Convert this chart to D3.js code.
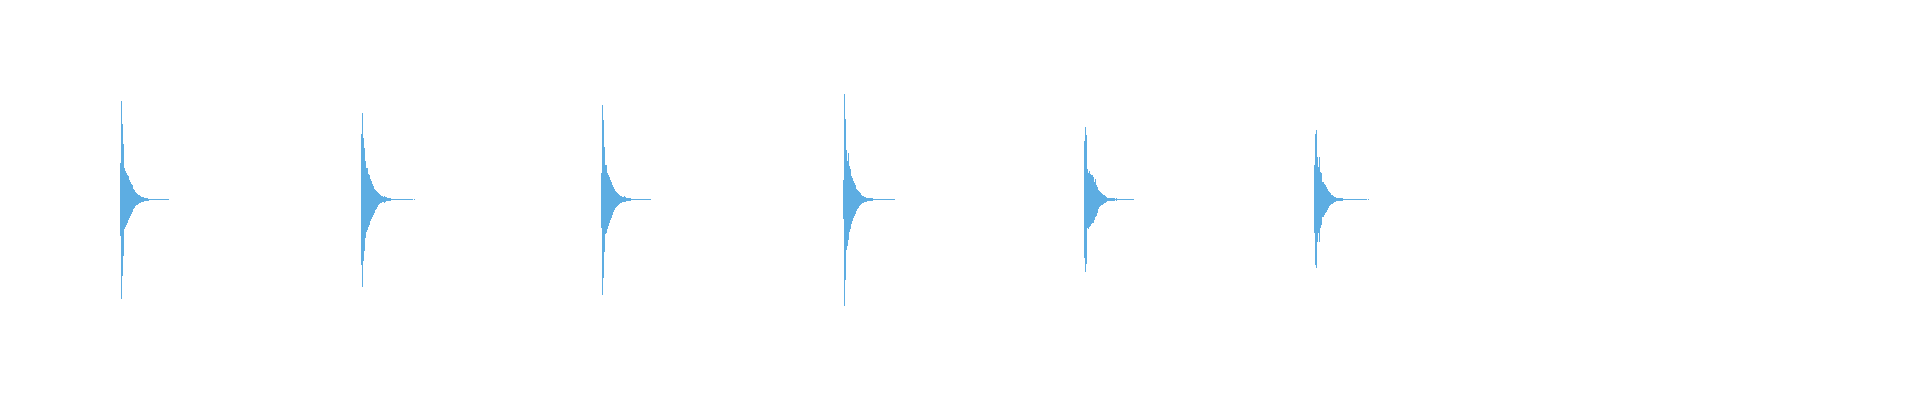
<!DOCTYPE html>
<html>
<head>
<meta charset="utf-8">
<script src="https://cdn.jsdelivr.net/npm/d3@7"></script>
<style>
  html, body { margin: 0; padding: 0; background: #fff; }
  svg { display: block; }
</style>
</head>
<body>
<svg id="chart" width="1920" height="400"></svg>
<script>
// beat onsets in seconds, one decaying hit each
const onsets = [0.5042, 1.5083, 2.5083, 3.5167, 4.5208, 5.4792];
const sampleStep = 1 / 240; // one envelope column

// positive peaks per column (starting one column before the onset)
const pulse1Hi = [0.333, 0.891, 0.682, 0.509, 0.282, 0.257, 0.245, 0.227, 0.212, 0.175, 0.161, 0.145, 0.130, 0.100, 0.085, 0.070, 0.061, 0.052, 0.045, 0.039, 0.034, 0.027, 0.025, 0.021, 0.018, 0.015, 0.012, 0.012, 0.009, 0.009, 0.009, 0.006, 0.006, 0.006, 0.006, 0.006, 0.006, 0.005, 0.005, 0.005, 0.005, 0.005, 0.005, 0.005, 0.005, 0.005, 0.005, 0.005, 0.005];
const pulse1Lo = [0.336, 0.900, 0.691, 0.518, 0.264, 0.248, 0.234, 0.218, 0.190, 0.165, 0.150, 0.130, 0.110, 0.090, 0.075, 0.062, 0.054, 0.046, 0.040, 0.034, 0.030, 0.025, 0.022, 0.019, 0.016, 0.014, 0.012, 0.011, 0.010, 0.009, 0.008, 0.006, 0.006, 0.006, 0.006, 0.006, 0.006, 0.005, 0.005, 0.005, 0.005, 0.005, 0.005, 0.005, 0.005, 0.005, 0.005, 0.005, 0.005];

const pulse2Hi = [0.594, 0.782, 0.561, 0.464, 0.348, 0.282, 0.288, 0.236, 0.221, 0.185, 0.166, 0.145, 0.125, 0.100, 0.085, 0.075, 0.064, 0.055, 0.048, 0.043, 0.036, 0.030, 0.027, 0.034, 0.025, 0.021, 0.015, 0.012, 0.012, 0.012, 0.009, 0.009, 0.009, 0.006, 0.006, 0.009, 0.006, 0.006, 0.005, 0.005, 0.005, 0.005, 0.005, 0.005, 0.005, 0.005, 0.005, 0.005, 0.005, 0.005, 0.005, 0.005, 0, 0.005];
const pulse2Lo = [0.597, 0.794, 0.561, 0.470, 0.348, 0.291, 0.279, 0.248, 0.234, 0.197, 0.173, 0.157, 0.143, 0.127, 0.097, 0.082, 0.066, 0.052, 0.043, 0.036, 0.030, 0.027, 0.024, 0.028, 0.022, 0.018, 0.015, 0.012, 0.012, 0.011, 0.009, 0.009, 0.008, 0.006, 0.006, 0.007, 0.006, 0.006, 0.005, 0.005, 0.005, 0.005, 0.005, 0.005, 0.005, 0.005, 0.005, 0.005, 0.005, 0.005, 0.005, 0.005, 0, 0.005];

const pulse3Hi = [0.245, 0.857, 0.721, 0.479, 0.312, 0.318, 0.245, 0.227, 0.206, 0.175, 0.161, 0.136, 0.115, 0.094, 0.079, 0.070, 0.057, 0.048, 0.043, 0.036, 0.030, 0.027, 0.025, 0.030, 0.021, 0.018, 0.015, 0.012, 0.012, 0.012, 0.009, 0.009, 0.009, 0.006, 0.006, 0.006, 0.006, 0.006, 0.006, 0.005, 0.005, 0.005, 0.005, 0.005, 0.005, 0.005, 0.005, 0.005, 0.005, 0.005];
const pulse3Lo = [0.257, 0.864, 0.718, 0.475, 0.318, 0.309, 0.264, 0.245, 0.215, 0.185, 0.164, 0.140, 0.118, 0.097, 0.080, 0.068, 0.056, 0.047, 0.041, 0.035, 0.030, 0.026, 0.024, 0.027, 0.021, 0.018, 0.015, 0.012, 0.012, 0.011, 0.009, 0.009, 0.008, 0.006, 0.006, 0.006, 0.006, 0.006, 0.006, 0.005, 0.005, 0.005, 0.005, 0.005, 0.005, 0.005, 0.005, 0.005, 0.005, 0.005];

const pulse4Hi = [0.175, 0.957, 0.736, 0.448, 0.352, 0.425, 0.303, 0.273, 0.212, 0.200, 0.170, 0.152, 0.130, 0.100, 0.085, 0.075, 0.064, 0.055, 0.045, 0.036, 0.030, 0.025, 0.021, 0.018, 0.018, 0.015, 0.015, 0.012, 0.012, 0.012, 0.009, 0.009, 0.009, 0.006, 0.006, 0.006, 0.006, 0.005, 0.005, 0.005, 0.005, 0.005, 0.005, 0.005, 0.005, 0.005, 0.005, 0.005, 0.005, 0.005, 0.005, 0.005];
const pulse4Lo = [0.173, 0.970, 0.734, 0.461, 0.425, 0.370, 0.294, 0.264, 0.221, 0.194, 0.172, 0.150, 0.128, 0.103, 0.088, 0.074, 0.062, 0.052, 0.044, 0.036, 0.030, 0.025, 0.021, 0.019, 0.017, 0.015, 0.014, 0.012, 0.012, 0.011, 0.009, 0.009, 0.008, 0.006, 0.006, 0.006, 0.006, 0.005, 0.005, 0.005, 0.005, 0.005, 0.005, 0.005, 0.005, 0.005, 0.005, 0.005, 0.005, 0.005, 0.005, 0.005];

const pulse5Hi = [0.530, 0.655, 0.585, 0.275, 0.245, 0.257, 0.236, 0.227, 0.221, 0.206, 0.155, 0.185, 0.136, 0.115, 0.085, 0.075, 0.064, 0.057, 0.048, 0.045, 0.039, 0.030, 0.021, 0.018, 0.015, 0.015, 0.012, 0.012, 0.012, 0.012, 0.012, 0.006, 0.012, 0.006, 0.009, 0.009, 0.005, 0.005, 0.005, 0.005, 0.005, 0.005, 0.005, 0.005, 0.005, 0.005, 0.005, 0.005, 0.005, 0.005];
const pulse5Lo = [0.530, 0.657, 0.582, 0.257, 0.264, 0.248, 0.243, 0.227, 0.218, 0.218, 0.188, 0.157, 0.148, 0.127, 0.082, 0.066, 0.060, 0.052, 0.047, 0.042, 0.036, 0.029, 0.022, 0.018, 0.016, 0.014, 0.012, 0.012, 0.011, 0.011, 0.010, 0.007, 0.010, 0.007, 0.008, 0.008, 0.005, 0.005, 0.005, 0.005, 0.005, 0.005, 0.005, 0.005, 0.005, 0.005, 0.005, 0.005, 0.005, 0.005];

const pulse6Hi = [0.312, 0.591, 0.630, 0.388, 0.297, 0.388, 0.252, 0.245, 0.161, 0.155, 0.145, 0.130, 0.115, 0.094, 0.075, 0.064, 0.055, 0.045, 0.039, 0.030, 0.025, 0.021, 0.018, 0.015, 0.015, 0.015, 0.012, 0.012, 0.012, 0.009, 0.009, 0.009, 0.006, 0.006, 0.006, 0.006, 0.005, 0.005, 0.005, 0.005, 0.005, 0.005, 0.005, 0.005, 0.005, 0.005, 0.005, 0.005, 0.005, 0.005, 0.005, 0.005, 0.005, 0, 0.005];
const pulse6Lo = [0.309, 0.597, 0.627, 0.385, 0.309, 0.385, 0.257, 0.234, 0.157, 0.157, 0.142, 0.127, 0.112, 0.092, 0.076, 0.063, 0.053, 0.045, 0.038, 0.031, 0.026, 0.021, 0.018, 0.016, 0.015, 0.014, 0.012, 0.012, 0.011, 0.009, 0.009, 0.008, 0.006, 0.006, 0.006, 0.006, 0.005, 0.005, 0.005, 0.005, 0.005, 0.005, 0.005, 0.005, 0.005, 0.005, 0.005, 0.005, 0.005, 0.005, 0.005, 0.005, 0.005, 0, 0.005];

const pulseHi = [pulse1Hi, pulse2Hi, pulse3Hi, pulse4Hi, pulse5Hi, pulse6Hi];
const pulseLo = [pulse1Lo, pulse2Lo, pulse3Lo, pulse4Lo, pulse5Lo, pulse6Lo];

const width = 1920;
const height = 400;
const waveColor = "#5dade2";

const svg = d3.select("#chart");

const xScale = d3.scaleLinear().domain([0, 8]).range([0, width]);
const yScale = d3.scaleLinear().domain([-1, 1]).range([309.5, 89.5]);

const columnWidth = xScale(sampleStep) - xScale(0);

const rows = onsets.flatMap((onset, p) =>
  pulseHi[p].map((hi, i) => ({
    t: onset + (i - 1) * sampleStep,
    hi,
    lo: pulseLo[p][i],
  }))
);

svg
  .append("g")
  .attr("class", "waveform")
  .attr("fill", waveColor)
  .attr("shape-rendering", "crispEdges")
  .selectAll("rect")
  .data(rows.filter((d) => d.hi > 0 || d.lo > 0))
  .join("rect")
  .attr("x", (d) => xScale(d.t))
  .attr("width", columnWidth)
  .attr("y", (d) => yScale(d.hi))
  .attr("height", (d) => yScale(-d.lo) - yScale(d.hi));
</script>
</body>
</html>
